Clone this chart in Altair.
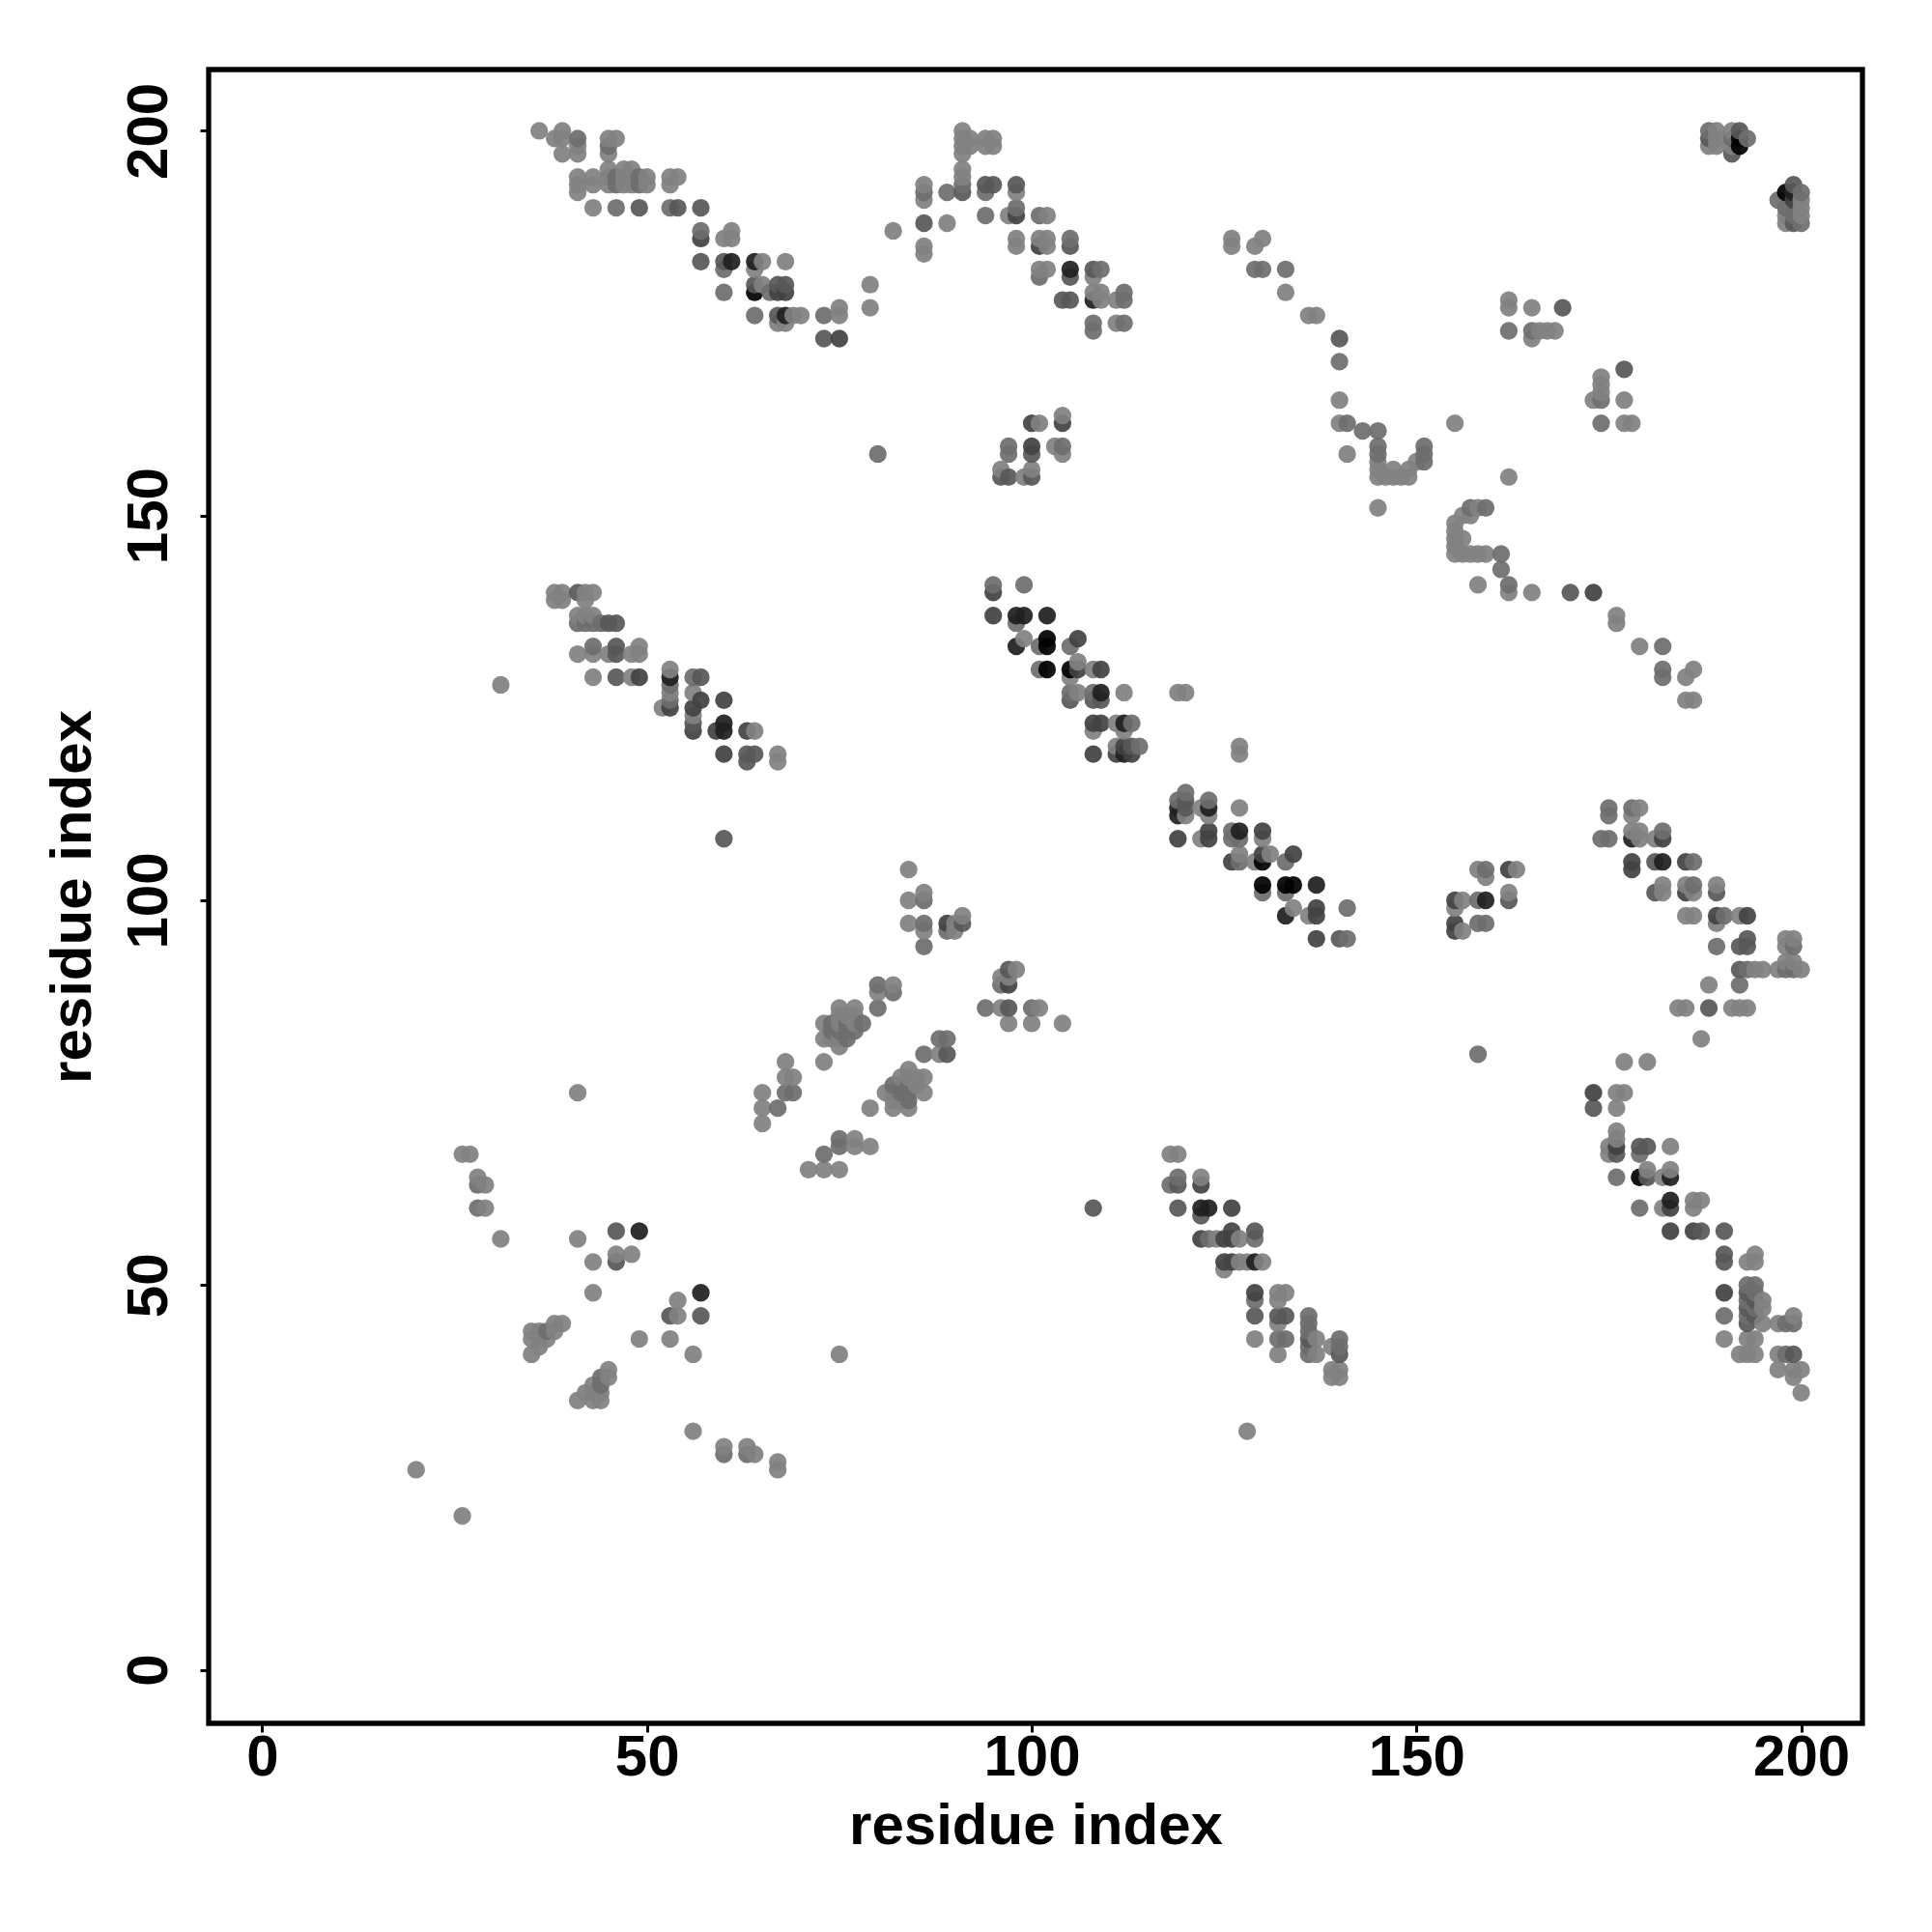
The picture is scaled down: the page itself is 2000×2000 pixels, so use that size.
import altair as alt
import pandas as pd

# grey levels of a single dot, as seen on white
L, M, K, D, V, B = 138, 120, 100, 80, 48, 20
tick_values = [0, 50, 100, 150, 200]
axis_title = "residue index"

helix_top_left = [
    (36,200,L),(38,199,L),(39,200,L),(39,199,L),(39,197,L),(41,199,M),(41,198,L),(41,197,L),
    (45,199,L),(45,198,M),(45,197,L),(46,199,L),(41,194,L),(41,193,L),(41,192,L),(43,194,L),
    (43,193,L),(43,190,L),(45,195,L),(45,194,L),(45,193,L),(46,194,M),(46,193,M),(47,195,L),
    (47,194,L),(47,193,L),(48,195,L),(48,194,L),(48,193,L),(49,194,M),(49,193,M),(50,194,L),
    (50,193,L),(53,194,L),(53,193,L),(54,194,L),(46,190,M),(49,190,K),(53,190,M),(54,190,K),
    (57,190,K),(57,187,M),(57,186,D),(57,183,K),(60,186,L),(60,183,K),(60,182,M),(60,179,M),
    (61,187,L),(61,186,L),(61,183,V),(64,183,V),(64,182,L),(64,180,K),(64,179,B),(64,176,M),
    (65,183,L),(65,180,L),(66,179,M),(67,180,K),(67,179,D),(67,176,K),(67,175,L),(68,183,L),
    (68,180,K),(68,179,D),(68,176,V),(68,175,L),(69,176,L),(70,176,L),(73,176,M),(73,173,K),
    (75,177,L),(75,176,L),(75,173,D),(79,180,L),(79,177,L),(82,187,L),
]
upper_middle = [
    (86,193,L),(86,192,M),(86,191,L),(86,188,K),(86,185,L),(86,184,L),(89,192,M),(89,188,L),
    (91,200,L),(91,199,L),(91,198,L),(91,197,L),(91,195,L),(91,194,L),(91,193,M),(91,192,K),
    (92,199,L),(92,198,L),(94,199,L),(94,198,L),(94,193,K),(94,192,M),(94,189,M),(95,199,L),
    (95,198,L),(95,193,K),(97,189,L),(98,193,K),(98,192,L),(98,190,M),(98,189,D),(98,186,L),
    (98,185,L),(101,189,M),(101,186,L),(101,185,D),(101,182,L),(101,181,M),(102,189,L),
    (102,186,L),(102,185,L),(102,182,L),(104,178,K),(105,186,M),(105,185,K),(105,182,V),
    (105,181,K),(105,178,K),(108,182,K),(108,181,L),(108,179,L),(108,178,V),(108,175,M),
    (108,174,M),(109,182,M),(109,179,L),(109,178,L),(111,178,L),(111,175,L),(112,179,M),
    (112,178,M),(112,175,M),
]
long_antidiagonal = [
    (126,186,L),(126,185,L),(129,185,L),(129,182,M),(130,186,L),(130,182,M),(133,182,M),
    (133,179,L),(136,176,L),(137,176,L),(140,173,K),(140,170,M),(140,165,L),(140,162,L),
    (141,162,M),(141,158,L),(143,161,M),(145,161,M),(145,159,M),(145,158,M),(145,157,L),
    (145,156,L),(145,155,L),(145,151,L),(146,155,L),(147,156,L),(147,155,L),(148,155,L),
    (149,156,L),(149,155,L),(150,157,L),(151,159,M),(151,158,M),(151,157,M),(155,162,L),
    (155,149,L),(155,148,L),(155,147,L),(155,146,L),(155,145,L),(156,150,L),(156,147,L),
    (156,145,L),(157,151,M),(157,150,L),(157,145,L),(158,151,L),(158,145,L),(158,141,L),
    (159,151,M),(159,145,L),(161,145,M),(161,143,M),(162,155,L),(162,141,M),(162,140,L),
    (165,140,L),(170,140,K),(173,140,D),(176,137,L),(176,136,L),(179,133,L),(182,133,M),
    (182,130,M),(182,129,M),(185,129,L),(185,126,L),(186,130,L),(186,126,L),
]
small_central = [
    (80,158,M),(96,156,L),(96,155,K),(97,159,M),(97,158,M),(97,155,K),(99,155,L),(100,162,D),
    (100,159,D),(100,158,K),(100,156,L),(100,155,K),(101,162,L),(103,159,L),(104,163,L),
    (104,162,D),(104,159,M),(104,158,L),
]
upper_right = [
    (188,200,M),(188,199,K),(188,198,L),(189,200,L),(189,199,L),(189,198,L),(191,200,L),
    (191,199,M),(191,198,L),(191,197,K),(192,200,K),(192,199,B),(192,198,B),(193,199,M),
    (197,191,M),(198,192,B),(198,190,M),(198,189,L),(198,188,L),(199,193,K),(199,192,V),
    (199,191,D),(199,189,M),(199,188,K),(200,192,M),(200,191,L),(200,190,L),(200,189,L),(200,188,M),
    (162,178,L),(162,177,L),(162,174,M),(165,177,L),(165,174,M),(165,173,L),(166,174,L),
    (167,174,L),(168,174,L),(169,177,K),(177,169,K),(174,168,L),(174,167,L),(174,166,L),
    (174,165,M),(173,165,L),(177,165,L),(174,162,M),(177,162,L),(178,162,L),
]
left_band = [
    (31,128,L),(38,140,L),(38,139,L),(39,140,L),(39,139,L),(41,140,K),(41,137,L),(41,136,M),
    (41,132,L),(42,140,L),(42,139,L),(42,137,L),(42,136,M),(43,140,L),(43,137,L),(43,136,M),
    (43,133,M),(43,132,L),(43,129,L),(44,136,M),(45,136,K),(45,132,L),(46,136,K),(46,133,K),
    (46,132,K),(46,129,K),(48,132,L),(48,129,L),(49,133,L),(49,132,L),(49,129,D),(52,125,L),
    (53,130,L),(53,129,V),(53,128,M),(53,127,L),(53,126,M),(53,125,D),(56,129,M),(56,127,L),
    (56,125,D),(56,124,L),(56,123,K),(56,122,D),(57,129,K),(57,126,D),(59,122,D),(60,126,D),
    (60,123,V),(60,122,V),(60,119,D),(60,108,K),(63,122,D),(63,119,K),(63,118,K),(64,122,L),
    (64,119,K),(67,119,L),(67,118,L),
]
middle_band = [
    (95,141,M),(95,140,D),(95,137,D),(98,137,V),(98,136,M),(98,133,V),(99,141,M),(99,137,V),
    (99,134,L),(101,133,M),(101,130,M),(102,137,V),(102,134,B),(102,133,B),(102,130,B),
    (105,133,M),(105,130,B),(105,129,L),(105,127,M),(105,126,K),(106,134,D),(106,131,L),
    (106,130,D),(106,127,L),(108,130,L),(108,127,M),(108,126,K),(108,123,D),(108,122,L),
    (108,119,D),(109,130,D),(109,127,V),(109,126,K),(109,123,D),(111,123,L),(111,120,L),
    (111,119,D),(112,127,L),(112,123,V),(112,122,L),(112,120,D),(112,119,V),(113,123,M),
    (113,120,K),(113,119,D),(114,120,M),(119,127,L),(120,127,L),(127,120,L),(127,119,L),
]
main_diagonal = [
    (119,113,M),(119,112,V),(119,111,V),(119,108,D),(120,114,M),(120,113,K),(120,112,K),
    (120,111,L),(122,112,L),(122,108,L),(123,113,M),(123,112,V),(123,111,L),(123,109,D),
    (123,108,D),(126,109,M),(126,108,M),(126,105,D),(127,112,L),(127,109,V),(127,108,M),
    (127,106,L),(127,105,M),(129,105,L),(130,109,D),(130,108,L),(130,106,D),(130,105,B),
    (130,102,B),(130,101,M),(131,106,L),(133,105,M),(133,102,B),(133,101,M),(133,98,V),
    (134,106,D),(134,102,B),(134,99,L),(136,98,L),(137,102,V),(137,99,D),(137,98,D),
    (137,95,D),(140,95,K),(141,99,M),(141,95,M),
]
parallel_pair = [
    (84,104,L),(84,100,L),(84,97,L),(86,101,L),(86,100,M),(86,97,M),(86,96,L),(86,94,M),
    (89,97,D),(89,96,M),(90,97,L),(90,96,L),(91,98,L),(91,97,K),(80,89,M),(80,88,L),(80,86,M),
    (82,89,L),(82,88,M),(75,86,L),(75,85,L),(75,84,L),(75,83,M),(75,82,L),(75,81,L),(77,86,L),
    (77,85,L),(77,84,L),(77,83,M),(73,84,L),(73,82,L),(73,79,L),(74,84,M),(74,83,M),(74,82,L),
    (76,85,L),(76,84,M),(76,83,M),(76,82,M),(78,84,M),(79,73,L),(81,75,L),(82,76,M),(82,75,L),
    (82,74,L),(82,73,L),(83,77,L),(83,76,M),(83,75,M),(83,74,L),(84,78,L),(84,77,L),(84,76,M),
    (84,75,M),(84,74,M),(84,73,L),(85,77,L),(85,76,L),(86,80,M),(86,77,L),(86,75,L),(88,82,M),
    (88,80,L),(89,82,M),(89,80,K),(65,75,L),(65,73,L),(65,71,L),(67,73,M),(68,79,L),(68,77,L),
    (68,75,M),(69,77,L),(69,75,M),(71,65,L),(73,67,M),(73,65,L),(75,69,M),(75,68,M),(75,65,L),
    (77,69,L),(77,68,L),(79,68,L),
]
right_of_parallel = [
    (94,86,M),(96,90,L),(96,89,M),(96,86,L),(97,91,K),(97,90,L),(97,89,D),(97,86,K),(97,84,L),
    (98,91,L),(100,86,M),(100,84,L),(101,86,L),(104,84,L),(108,60,K),
]
lower_left = [
    (20,26,L),(26,20,L),(26,67,L),(27,67,L),(28,64,L),(28,63,M),(28,60,M),(29,63,L),(29,60,L),(31,56,L),
    (41,75,L),(41,56,L),(43,53,L),(43,49,L),(46,57,K),(46,54,L),(46,53,K),(48,54,L),(49,57,V),
    (49,43,L),(53,46,K),(53,43,L),(54,48,L),(54,46,L),(57,49,V),(57,46,K),(56,41,L),(56,31,L),
    (60,29,L),(60,28,M),(63,29,L),(63,28,M),(64,28,L),(67,27,L),(67,26,L),(75,41,L),(35,44,L),
    (35,43,L),(35,41,L),(36,44,L),(36,43,L),(36,42,L),(37,44,M),(37,43,L),(38,45,L),(38,44,L),
    (39,45,L),(41,35,L),(42,36,L),(43,37,L),(43,36,L),(43,35,L),(44,38,M),(44,37,M),(44,36,L),
    (44,35,L),(45,39,L),(45,38,L),
]
lower_middle = [
    (118,67,L),(118,63,M),(119,67,L),(119,64,M),(119,63,K),(119,60,K),(122,64,L),(122,63,D),
    (122,60,V),(122,59,K),(122,56,D),(123,60,V),(123,56,M),(124,56,L),(125,56,D),(125,53,D),
    (125,52,L),(126,60,D),(126,57,D),(126,56,D),(126,53,D),(127,56,L),(127,53,L),(128,53,L),
    (128,31,L),(129,57,K),(129,56,M),(129,53,V),(129,49,D),(129,48,M),(129,46,K),(129,43,L),
    (130,53,L),(132,49,L),(132,48,L),(132,46,K),(132,45,L),(132,43,M),(132,41,L),(133,49,L),
    (133,46,K),(133,43,M),(136,46,M),(136,45,M),(136,44,M),(136,43,K),(136,42,M),(136,41,M),
    (137,43,L),(137,41,L),(139,42,L),(139,39,L),(139,38,L),(140,43,M),(140,42,M),(140,41,K),
    (140,39,L),(140,38,L),
]
lower_right = [
    (177,79,L),(180,79,L),(173,75,D),(173,73,K),(176,75,L),(176,73,L),(176,70,L),(176,69,L),
    (176,68,D),(176,67,K),(176,64,M),(177,75,L),(175,68,L),(175,67,L),(179,68,K),(179,67,M),
    (179,64,B),(179,60,M),(180,68,K),(180,65,L),(180,64,K),(182,64,L),(182,60,L),(183,68,L),
    (183,65,L),(183,64,V),(183,61,V),(183,60,D),(183,57,D),(186,61,L),(186,60,L),(186,57,D),
    (187,61,L),(187,57,K),(190,57,K),(190,54,K),(190,53,K),(190,49,D),(190,46,M),(190,43,L),
    (193,53,L),(193,50,M),(193,49,K),(193,48,M),(193,47,K),(193,46,M),(193,45,K),(193,43,L),
    (193,41,L),(194,54,L),(194,53,L),(194,50,M),(194,49,M),(194,48,K),(194,47,M),(194,46,K),
    (194,43,L),(194,41,L),(195,48,L),(195,47,L),(195,45,L),(192,41,L),(197,45,L),(197,41,L),
    (197,39,L),(198,45,M),(198,41,M),(199,46,L),(199,45,M),(199,41,K),(199,39,L),(199,38,L),
    (200,39,L),(200,36,L),
]
right_upper = [
    (155,100,D),(155,99,L),(155,97,D),(155,96,D),(156,100,L),(156,96,L),(158,104,L),(158,100,M),
    (158,97,M),(158,80,M),(159,104,M),(159,103,L),(159,100,V),(159,97,M),(162,104,D),(162,101,L),
    (162,100,K),(163,104,L),(174,108,M),(175,112,M),(175,111,M),(175,108,M),(178,112,M),(178,111,L),
    (178,109,L),(178,108,V),(178,105,D),(178,104,D),(179,112,L),(179,109,L),(179,108,L),(181,108,L),
    (181,105,K),(181,101,K),(182,109,M),(182,108,D),(182,105,V),(182,102,L),(182,101,L),(185,105,D),
    (185,102,L),(185,101,D),(185,98,L),(186,105,M),(186,102,M),(186,101,L),(186,98,L),(189,102,L),
    (189,101,K),(189,98,D),(189,97,L),(189,94,M),(190,98,M),(192,98,L),(192,94,K),(192,91,K),
    (192,89,M),(192,86,L),(193,98,D),(193,95,K),(193,94,K),(193,91,M),(193,86,L),(194,91,L),
    (195,91,L),(197,91,L),(198,95,L),(198,94,L),(198,92,L),(198,91,M),(199,95,L),(199,94,M),
    (199,92,L),(199,91,M),(200,91,L),(188,89,L),(188,86,K),(184,86,L),(185,86,L),(187,82,L),
    (191,86,L),
]

groups = [helix_top_left, upper_middle, long_antidiagonal, small_central, upper_right, left_band,
          middle_band, main_diagonal, parallel_pair, right_of_parallel, lower_left, lower_middle,
          lower_right, right_upper]
rows = sorted({(x, y): g for grp in groups for x, y, g in grp}.items())
OPACITY = 0.93


def to_colour(seen):
    v = max(0, round((seen - 255 * (1 - OPACITY)) / OPACITY))
    return f"#{v:02x}{v:02x}{v:02x}"


df = pd.DataFrame({
    "x": [k[0] for k, _ in rows],
    "y": [k[1] for k, _ in rows],
    "c": [to_colour(g) for _, g in rows],
})

FONT = "Liberation Sans"
dom = [-6.96, 207.96]


def ax(**kw):
    return alt.Axis(values=tick_values, title=axis_title, grid=False, domain=False, format="d",
                    ticks=True, tickColor="black", tickWidth=3, tickSize=9,
                    labelFont=FONT, labelFontWeight="bold", labelFontSize=60, labelColor="black",
                    titleFont=FONT, titleFontWeight="bold", titleFontSize=60, titleColor="black",
                    labelOverlap=False, **kw)


chart = (
    alt.Chart(df)
    .mark_circle(size=335, opacity=OPACITY)
    .encode(
        x=alt.X("x:Q", scale=alt.Scale(domain=dom, nice=False, zero=False),
                axis=ax(labelPadding=-3, titlePadding=12)),
        y=alt.Y("y:Q", scale=alt.Scale(domain=dom, nice=False, zero=False),
                axis=ax(labelAngle=270, labelAlign="center", labelBaseline="alphabetic",
                        labelPadding=35, titlePadding=18)),
        color=alt.Color("c:N", scale=None),
        order=alt.Order("idx:Q"),
    )
    .transform_window(idx="row_number()")
    .properties(width=1712, height=1712, autosize="none",
                padding={"left": 208, "top": 64, "right": 60, "bottom": 208})
    .configure_view(stroke="black", strokeWidth=5.3)
)

chart.save("out.html", embed_options={"renderer": "svg", "actions": False})
